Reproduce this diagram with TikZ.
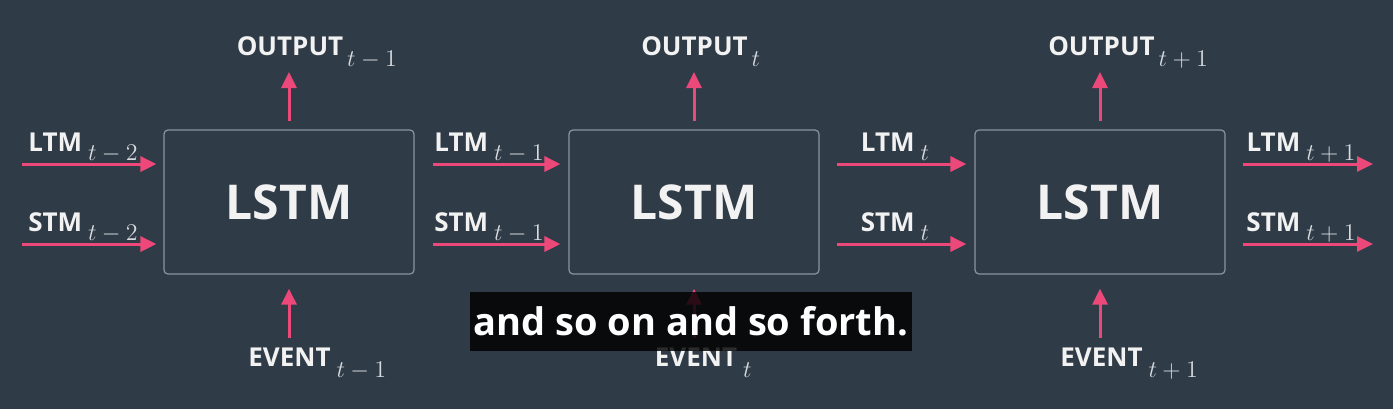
\documentclass[tikz,border=0pt]{standalone}
\usepackage{fontspec}
\setmainfont{Open Sans}
\usetikzlibrary{arrows.meta}
\definecolor{bg}{RGB}{47,59,71}
\definecolor{pinkarr}{RGB}{236,72,122}
\definecolor{boxline}{RGB}{140,149,158}
\definecolor{lbl}{RGB}{242,242,242}
\definecolor{subc}{RGB}{215,218,222}
\newcommand{\subs}[2][5.5pt]{\raisebox{-#1}{\color{subc}\fontsize{11.5}{13}\selectfont$#2$}}
\begin{document}
\begin{tikzpicture}[x=0.5pt,y=-0.5pt,
 cell/.style={draw=boxline,line width=0.6pt,rounded corners=2pt,minimum width=125pt,minimum height=72pt,inner sep=0pt,font=\fontsize{24}{28}\selectfont\bfseries,text=lbl},
 arr/.style={draw=pinkarr,line width=1.5pt,-{Triangle[length=8pt,width=7.5pt]}},
 lab/.style={anchor=base,inner sep=0pt,text=lbl,font=\fontsize{13}{15}\selectfont\bfseries},
]
\fill[bg] (0,0) rectangle (1393,409);
\useasboundingbox (0,0) rectangle (1393,409);

% cells
\node[cell] (b1) at (289,202) {LSTM};
\node[cell] (b2) at (694,202) {LSTM};
\node[cell] (b3) at (1100,202) {LSTM};

% free ends
\coordinate (l0) at (22,164);
\coordinate (s0) at (22,244);
\coordinate (l4) at (1373,164);
\coordinate (s4) at (1373,244);
\coordinate (o1) at (289,72);
\coordinate (o2) at (694,72);
\coordinate (o3) at (1100,72);
\coordinate (e1) at (289,338);
\coordinate (e2) at (694,338);
\coordinate (e3) at (1100,338);

% horizontal arrows
\draw[arr,shorten >=3.5pt] (l0) -- (b1.west |- l0);
\draw[arr,shorten >=3.5pt] (s0) -- (b1.west |- s0);
\draw[arr,shorten <=9pt,shorten >=4pt] (b1.east |- l0) -- (b2.west |- l0);
\draw[arr,shorten <=9pt,shorten >=4pt] (b1.east |- s0) -- (b2.west |- s0);
\draw[arr,shorten <=8.5pt,shorten >=4pt] (b2.east |- l0) -- (b3.west |- l0);
\draw[arr,shorten <=8.5pt,shorten >=4pt] (b2.east |- s0) -- (b3.west |- s0);
\draw[arr,shorten <=8.5pt] (b3.east |- l0) -- (l4);
\draw[arr,shorten <=8.5pt] (b3.east |- s0) -- (s4);

% vertical arrows
\draw[arr,shorten <=4pt] (b1.north) -- (o1);
\draw[arr,shorten <=4pt] (b2.north) -- (o2);
\draw[arr,shorten <=4pt] (b3.north) -- (o3);
\draw[arr,shorten >=7pt] (e1) -- (b1.south);
\draw[arr,shorten >=7pt] (e2) -- (b2.south);
\draw[arr,shorten >=7pt] (e3) -- (b3.south);

% horizontal labels
\node[lab] (ll0) at (83,151) {LTM\hspace{3pt}\subs[4.5pt]{t-2}};
\node[lab] (sl0) at (83,231) {STM\hspace{3pt}\subs[4.5pt]{t-2}};
\node[lab] (ll1) at (489,151) {LTM\hspace{3pt}\subs[4.5pt]{t-1}};
\node[lab] (sl1) at (489,231) {STM\hspace{3pt}\subs[4.5pt]{t-1}};
\node[lab] (ll2) at (895,151) {LTM\hspace{3pt}\subs[4.5pt]{t}};
\node[lab] (sl2) at (895,231) {STM\hspace{3pt}\subs[4.5pt]{t}};
\node[lab] (ll3) at (1301,151) {LTM\hspace{3pt}\subs[4.5pt]{t+1}};
\node[lab] (sl3) at (1301,231) {STM\hspace{3pt}\subs[4.5pt]{t+1}};

% output labels
\node[lab] (ol1) at (290,55) {OUTPUT\rlap{\hspace{2pt}\subs{t-1}}};
\node[lab] (ol2) at (694.5,55) {OUTPUT\rlap{\hspace{2pt}\subs{t}}};
\node[lab] (ol3) at (1101.5,55) {OUTPUT\rlap{\hspace{2pt}\subs{t+1}}};

% event labels
\node[lab] (el1) at (289.5,366) {EVENT\rlap{\hspace{3pt}\subs{t-1}}};
\node[lab] (el2) at (696,366) {EVENT\rlap{\hspace{3pt}\subs{t}}};
\node[lab] (el3) at (1101.5,366) {EVENT\rlap{\hspace{3pt}\subs{t+1}}};

% subtitle
\node[fill=black,fill opacity=0.82,text opacity=1,text=white,minimum width=221pt,minimum height=29.5pt,inner sep=0pt,font=\fontsize{19}{22}\selectfont\bfseries] (cap) at (691,321.5) {and so on and so forth.};
\end{tikzpicture}
\end{document}
